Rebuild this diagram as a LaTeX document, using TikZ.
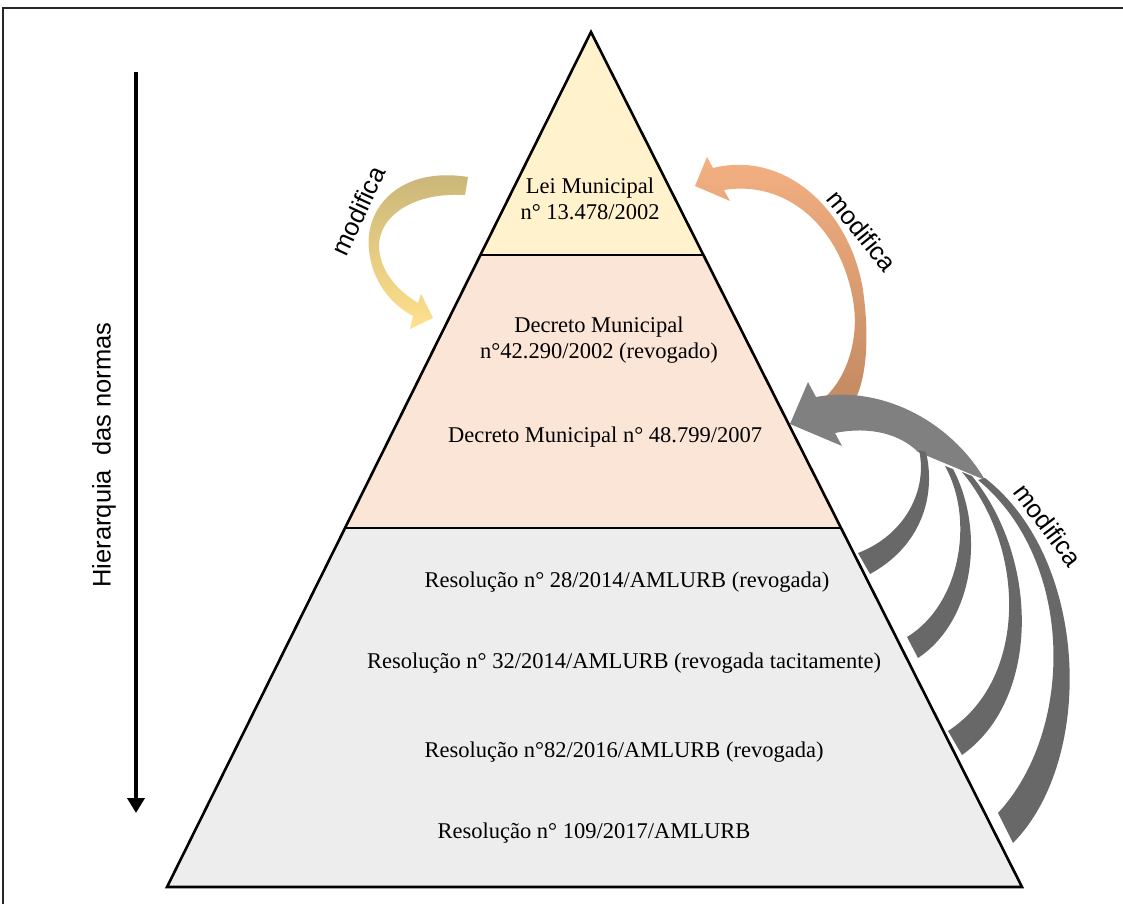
\documentclass[tikz,border=0pt]{standalone}
\usepackage{fontspec}
\setmainfont{Liberation Serif}
\setsansfont{Liberation Sans}
\usetikzlibrary{arrows.meta,positioning}

\definecolor{leiFill}{RGB}{255,242,204}
\definecolor{decFill}{RGB}{251,229,214}
\definecolor{resFill}{RGB}{237,237,237}
\definecolor{goldTop}{RGB}{199,180,120}
\definecolor{goldBot}{RGB}{255,225,140}
\definecolor{orTop}{RGB}{244,177,131}
\definecolor{orBot}{RGB}{196,138,98}
\definecolor{greyShaft}{RGB}{128,128,128}
\definecolor{greyBranch}{RGB}{104,104,104}

\begin{document}
\begin{tikzpicture}[x=1pt,y=-1pt,>=Latex,
tier line/.style={line width=2.6pt,line join=miter},
norm/.style={align=center,inner sep=0pt,font=\fontsize{22.5}{26}\selectfont},
verb/.style={inner sep=0pt,font=\sffamily\fontsize{25.5}{30}\selectfont},
branch/.style={fill=greyBranch}]
\useasboundingbox (0,0) rectangle (1123,904);
\draw[line width=1.5pt,black!85] (3,904) -- (3,8) -- (1123,8);

% pyramid
\coordinate (apex) at (591,32);
\coordinate (l1) at (480,255); \coordinate (r1) at (703,255);
\coordinate (l2) at (345,528); \coordinate (r2) at (841,528);
\coordinate (l3) at (167,887); \coordinate (r3) at (1022,887);
\fill[leiFill] (apex) -- (r1) -- (l1) -- cycle;
\fill[decFill] (l1) -- (r1) -- (r2) -- (l2) -- cycle;
\fill[resFill] (l2) -- (r2) -- (r3) -- (l3) -- cycle;
\draw[tier line] (apex) -- (r3) -- (l3) -- cycle;
\draw[tier line] (l1) -- (r1);
\draw[tier line] (l2) -- (r2);

\node[norm] (lei) at (590,199) {Lei Municipal\\n° 13.478/2002};
\node[norm] (dec1) at (599,340) {Decreto Municipal\\n°42.290/2002 (revogado)};
\node[norm] (dec2) at (605,437) {Decreto Municipal n° 48.799/2007};
\node[norm] (res1) at (627,582) {Resolução n° 28/2014/AMLURB (revogada)};
\node[norm] (res2) at (624,663) {Resolução n° 32/2014/AMLURB (revogada tacitamente)};
\node[norm] (res3) at (624,752) {Resolução n°82/2016/AMLURB (revogada)};
\node[norm] (res4) at (594,833) {Resolução n° 109/2017/AMLURB};

% hierarchy axis
\coordinate (hTop) at (136,72);
\coordinate (hBot) at (136,813);
\draw[line width=4pt,-{Triangle[length=15pt,width=17pt]}] (hTop) -- (hBot);
\node[verb,rotate=90] (hier) at (104,455) {Hierarquia\ \ das normas};

% block arrows
\path[top color=goldTop,bottom color=goldBot]
  (468,177) .. controls (400,166) and (364,208) .. (369,250)
  .. controls (372,282) and (392,305) .. (413,316) -- (410,329) -- (433,318) -- (421,294) -- (418,303)
  .. controls (400,292) and (381,274) .. (379,248)
  .. controls (378,215) and (415,192) .. (465,195) -- cycle;
\path[top color=orTop,bottom color=orBot]
  (695,186) -- (707,157) -- (713,168)
  .. controls (785,150) and (850,210) .. (863,290)
  .. controls (870,340) and (866,380) .. (854,402) -- (822,400)
  .. controls (846,380) and (860,340) .. (853,300)
  .. controls (840,225) and (785,180) .. (724,190) -- (730,201) -- cycle;
\fill[greyShaft] (790,424) -- (808,382) -- (816,397)
  .. controls (880,385) and (950,420) .. (985,480) -- (918,452)
  .. controls (900,434) and (870,426) .. (835,433) -- (842,446) -- cycle;
\path[branch] (919,450) .. controls (928,490) and (905,535) .. (858,553) -- (870,574)
  .. controls (918,548) and (937,500) .. (926,452) -- cycle;
\path[branch] (945,466) .. controls (975,520) and (960,605) .. (907,637) -- (918,658)
  .. controls (975,620) and (985,530) .. (953,469) -- cycle;
\path[branch] (962,472) .. controls (1027,550) and (1027,680) .. (948,731) -- (962,755)
  .. controls (1040,700) and (1040,560) .. (972,476) -- cycle;
\path[branch] (978,480) .. controls (1075,560) and (1075,730) .. (998,813) -- (1013,843)
  .. controls (1095,760) and (1090,560) .. (985,478) -- cycle;

\node[verb,rotate=65] (modL) at (358,211) {modifica};
\node[verb,rotate=-51] (modR) at (862,231) {modifica};
\node[verb,rotate=-53] (modG) at (1048,525) {modifica};
\end{tikzpicture}
\end{document}
